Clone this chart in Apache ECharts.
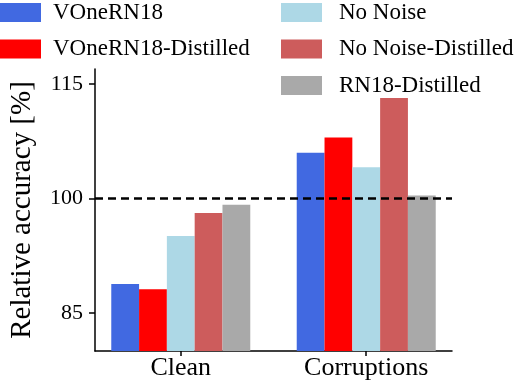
<!DOCTYPE html>
<html>
<head>
<meta charset="utf-8">
<script src="https://cdn.jsdelivr.net/npm/echarts@6/dist/echarts.min.js"></script>
<style>
  html, body { margin: 0; padding: 0; background: #fff; }
  #chart { width: 522px; height: 382px; }
</style>
</head>
<body>
<div id="chart"></div>
<script>
// data
var categories = ['Clean', 'Corruptions'];
var seriesNames = ['VOneRN18', 'VOneRN18-Distilled', 'No Noise', 'No Noise-Distilled', 'RN18-Distilled'];
var colors = ['#4169E1', '#FF0000', '#ADD8E6', '#CD5C5C', '#A9A9A9'];
var vOneRN18 = [88.8, 106.0];
var vOneRN18Distilled = [88.1, 108.0];
var noNoise = [95.1, 104.1];
var noNoiseDistilled = [98.1, 113.2];
var rn18Distilled = [99.2, 100.4];
var yTicks = [85, 100, 115];
var baseline = 100;

var values = [vOneRN18, vOneRN18Distilled, noNoise, noNoiseDistilled, rn18Distilled];
var font = "'Liberation Serif', serif";

var chart = echarts.init(document.getElementById('chart'));

var series = [];
for (var s = 0; s < seriesNames.length; s++) {
  var d = [];
  for (var i = 0; i < categories.length; i++) {
    d.push([i, values[s][i]]);
  }
  var item = {
    name: seriesNames[s],
    type: 'bar',
    data: d,
    barWidth: 27.8,
    barGap: '0%',
    itemStyle: { color: colors[s] }
  };
  if (s == 0) {
    // dashed reference line at 100%
    item.markLine = {
      silent: true,
      symbol: 'none',
      label: { show: false },
      lineStyle: { color: '#000', type: [8, 5], width: 2.5 },
      data: [{ yAxis: baseline }]
    };
  }
  series.push(item);
}

option = {
  animation: false,
  backgroundColor: '#fff',
  legend: [
    {
      data: seriesNames.slice(0, 2),
      orient: 'vertical',
      left: 0, top: 1,
      padding: 0,
      itemWidth: 41, itemHeight: 19, itemGap: 13.5,
      icon: 'rect',
      textStyle: { fontFamily: font, fontSize: 23, color: '#000', padding: [0, 0, 0, 7] }
    },
    {
      data: seriesNames.slice(2),
      orient: 'vertical',
      left: 281, top: 1,
      padding: 0,
      itemWidth: 41, itemHeight: 19, itemGap: 13.5,
      icon: 'rect',
      textStyle: { fontFamily: font, fontSize: 23, color: '#000', padding: [0, 0, 0, 12] }
    }
  ],
  grid: { left: 95, right: 70, top: 69, bottom: 31, containLabel: false },
  xAxis: {
    type: 'value',
    min: -0.4625, max: 1.4625,
    splitLine: { show: false },
    axisLine: { onZero: false, lineStyle: { color: '#000', width: 1.5 } },
    axisTick: { show: true, length: 5, lineStyle: { color: '#000', width: 1.5 }, customValues: [0, 1] },
    axisLabel: {
      customValues: [0, 1],
      formatter: function (v) { return categories[Math.round(v)]; },
      fontFamily: font, fontSize: 26, color: '#000', margin: 4
    }
  },
  yAxis: {
    type: 'value',
    min: 80, max: 117,
    name: 'Relative accuracy [%]',
    nameLocation: 'middle',
    nameGap: 58,
    nameTextStyle: { fontFamily: font, fontSize: 29, color: '#000' },
    splitLine: { show: false },
    axisLine: { show: true, onZero: false, lineStyle: { color: '#000', width: 1.5 } },
    axisTick: { show: true, length: 6, lineStyle: { color: '#000', width: 1.5 }, customValues: yTicks },
    axisLabel: {
      customValues: yTicks,
      fontFamily: font, fontSize: 22, color: '#000', margin: 12
    }
  },
  series: series
};

chart.setOption(option);
</script>
</body>
</html>
